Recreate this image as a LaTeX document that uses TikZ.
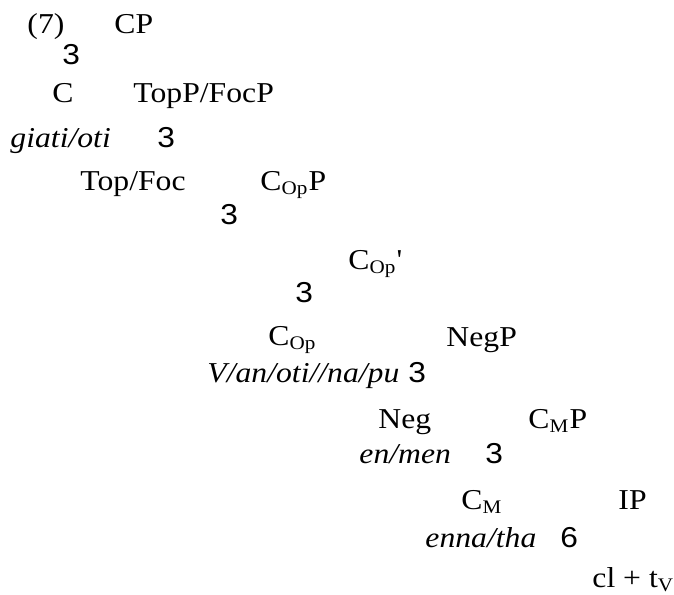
\documentclass[tikz,border=0pt,12pt]{standalone}
\usepackage{fontspec}
\setmainfont{Liberation Serif}[FakeStretch=1.1]
\setsansfont{Liberation Sans}[FakeStretch=1.1]
\usepackage{tikz}

\begin{document}
\begin{tikzpicture}
  [x=0.4167pt,y=-0.4167pt,
   word/.style={anchor=base west,inner sep=0pt},
   branch/.style={word,font=\sffamily}]
  \useasboundingbox (0,0) rectangle (674,594);
  \node[word] (ex) at (27,33) {(7)};
  \node[word] (cp) at (114,33) {CP};
  \node[branch] (b1) at (62,64) {3};

  \node[word] (c) at (52,102) {C};
  \node[word] (topp) at (133,102) {TopP/FocP};
  \node[word] (giati) at (10,147) {\itshape giati/oti};
  \node[branch] (b2) at (157,147) {3};

  \node[word] (top) at (80,190) {Top/Foc};
  \node[word] (copp) at (260,190) {C\textsubscript{Op}P};
  \node[branch] (b3) at (220,224) {3};

  \node[word] (copbar) at (348,269) {C\textsubscript{Op}\textquotesingle};
  \node[branch] (b4) at (295,302) {3};

  \node[word] (cop) at (268,345) {C\textsubscript{Op}};
  \node[word] (negp) at (446,346) {NegP};
  \node[word] (van) at (207,382) {\itshape V/an/oti//na/pu};
  \node[branch] (b5) at (408,382) {3};

  \node[word] (neg) at (378,428) {Neg};
  \node[word] (cmp) at (528,428) {C\textsubscript{M}P};
  \node[word] (enmen) at (359,463) {\itshape en/men};
  \node[branch] (b6) at (485,463) {3};

  \node[word] (cm) at (461,509) {C\textsubscript{M}};
  \node[word] (ip) at (618,509) {IP};
  \node[word] (enna) at (425,547) {\itshape enna/tha};
  \node[branch] (b7) at (560,547) {6};

  \node[word] (cltv) at (592,587) {cl + t\textsubscript{V}};
\end{tikzpicture}
\end{document}
